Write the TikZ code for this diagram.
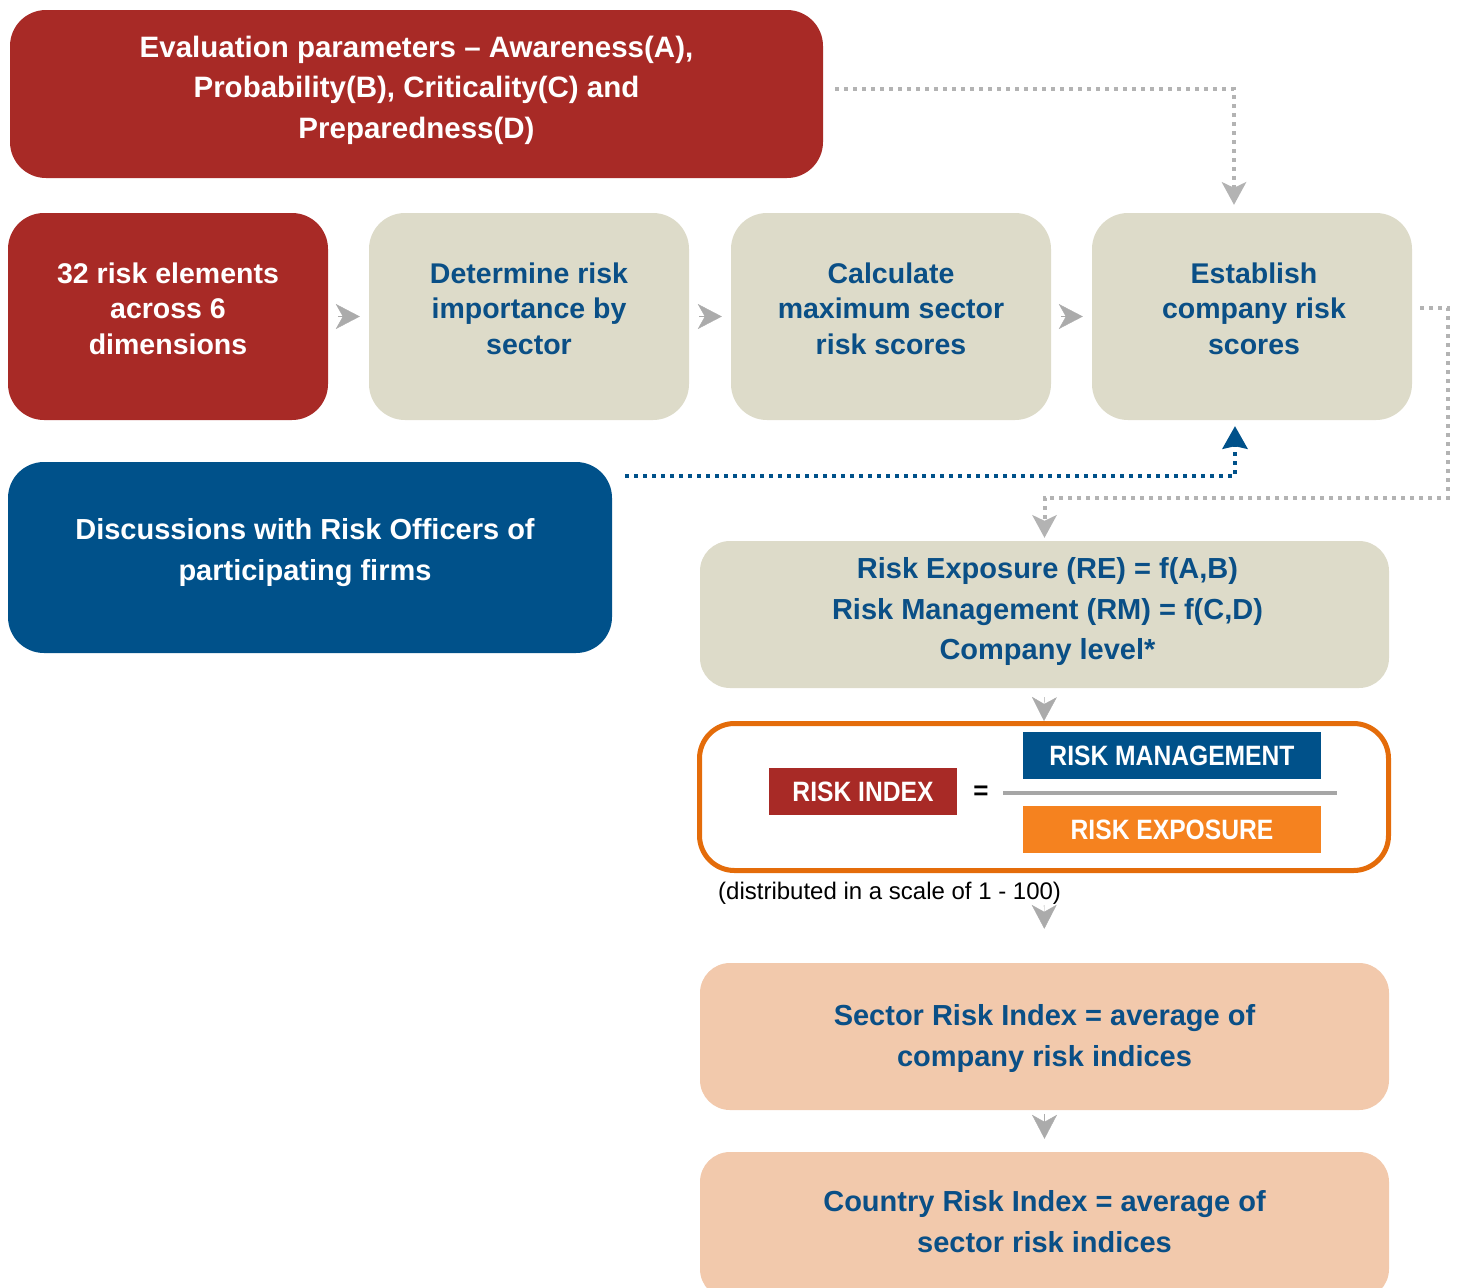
\documentclass[tikz,border=0pt]{standalone}
\usepackage{fontspec}
\setmainfont{Liberation Sans}
\newfontfamily\narrowf{Liberation Sans}[FakeStretch=0.88]
\usetikzlibrary{arrows.meta}
\definecolor{rred}{HTML}{A82A26}
\definecolor{beige}{HTML}{DDDBC9}
\definecolor{dblue}{HTML}{00518A}
\definecolor{tblue}{HTML}{0A4F86}
\definecolor{oborder}{HTML}{E46C0A}
\definecolor{ofill}{HTML}{F5821F}
\definecolor{peach}{HTML}{F2C9AC}
\definecolor{agray}{HTML}{ABABAB}
\definecolor{dgray}{HTML}{B3B3B3}
\definecolor{bargray}{HTML}{A6A6A6}
\tikzset{
 rbox/.style={rounded corners=36pt, inner sep=0pt},
 rowbox/.style={rbox, minimum width=320pt, minimum height=207pt},
 widebox/.style={rbox, rounded corners=30pt, minimum width=689pt, minimum height=147pt},
 txt/.style={inner sep=0pt, align=center, font=\bfseries\fontsize{29.5}{40.5}\selectfont},
 rowtxt/.style={txt, font=\bfseries\fontsize{28.5}{35.5}\selectfont},
 widetxt/.style={txt, text=tblue, font=\bfseries\fontsize{29}{40.8}\selectfont},
 lab/.style={inner sep=0pt, minimum height=47pt, text=white, font=\narrowf\bfseries\fontsize{28}{30}\selectfont},
 tipg/.style={agray, line width=0.4pt, -{Stealth[length=24pt,width=25pt,inset=7pt]}},
 gdot/.style={dgray, line width=4pt, dash pattern=on 4pt off 5pt, -{Stealth[length=23pt,width=25pt,inset=6pt,line width=0pt]}},
 bdot/.style={dblue, line width=4pt, dash pattern=on 4pt off 5pt, -{Stealth[length=23pt,width=26pt,inset=3pt,line width=0pt]}},
}
\begin{document}
\begin{tikzpicture}[x=1pt,y=-1pt]
\useasboundingbox (0,0) rectangle (1457,1288);
% top red box
\node[rbox, fill=rred, minimum width=813pt, minimum height=168pt] (top) at (416.5,94) {};
\node[txt, text=white] (topt) at ([yshift=4pt]top.center)
 {Evaluation parameters -- Awareness(A),\\Probability(B), Criticality(C) and\\Preparedness(D)};
% row
\node[rowbox, fill=rred] (b1) at (168,316.5) {};
\node[rowbox, fill=beige] (b2) at (529,316.5) {};
\node[rowbox, fill=beige] (b3) at (891,316.5) {};
\node[rowbox, fill=beige] (b4) at (1252,316.5) {};
\node[rowtxt, text=white] (b1t) at ([yshift=8pt]b1.center) {32 risk elements\\across 6\\dimensions};
\node[rowtxt, text=tblue] (b2t) at ([yshift=8pt]b2.center) {Determine risk\\importance by\\sector};
\node[rowtxt, text=tblue] (b3t) at ([yshift=8pt]b3.center) {Calculate\\maximum sector\\risk scores};
\node[rowtxt, text=tblue] (b4t) at ([xshift=2pt,yshift=8pt]b4.center) {Establish\\company risk\\scores};
\draw[tipg, shorten <=10pt, shorten >=9pt] (b1) -- (b2);
\draw[tipg, shorten <=10pt, shorten >=9pt] (b2) -- (b3);
\draw[tipg, shorten <=10pt, shorten >=9pt] (b3) -- (b4);
% blue box
\node[rbox, fill=dblue, minimum width=604pt, minimum height=191pt] (blue) at (310,557.5) {};
\node[txt, text=white, font=\bfseries\fontsize{29}{41}\selectfont] (bluet) at ([xshift=-5pt,yshift=4.5pt]blue.center)
 {Discussions with Risk Officers of\\participating firms};
% RE box
\node[widebox, fill=beige] (re) at (1044.5,614.5) {};
\node[widetxt] (ret) at ([xshift=3pt,yshift=3pt]re.center)
 {Risk Exposure (RE) = f(A,B)\\Risk Management (RM) = f(C,D)\\Company level*};
% orange frame
\node[draw=oborder, line width=5pt, rounded corners=35pt, minimum width=689pt, minimum height=147pt, inner sep=0pt] (ri) at (1044,797) {};
\node[lab, fill=rred, minimum width=188pt] (idx) at (863,791.5) {RISK INDEX};
\node[inner sep=0pt, font=\bfseries\fontsize{26}{30}\selectfont] (eq) at (981,793) {=};
\draw[bargray, line width=4pt] (1003,793) -- (1337,793);
\node[lab, fill=dblue, minimum width=298pt] (rm) at (1172,755.5) {RISK MANAGEMENT};
\node[lab, fill=ofill, minimum width=298pt] (rex) at (1172,829.5) {RISK EXPOSURE};
\node[anchor=west, inner sep=0pt, font=\fontsize{24}{28}\selectfont] (dist) at (718,893) {(distributed in a scale of 1 - 100)};
% lower boxes
\node[widebox, fill=peach] (sec) at (1044.5,1036.5) {};
\node[widetxt] (sect) at ([yshift=-2pt]sec.center) {Sector Risk Index = average of\\company risk indices};
\node[widebox, fill=peach] (cty) at (1044.5,1225.5) {};
\node[widetxt] (ctyt) at ([yshift=3.5pt]cty.center) {Country Risk Index = average of\\sector risk indices};
% arrows
\draw[tipg, shorten <=9pt] (re.south) -- (ri.north);
\draw[tipg, shorten <=32pt, shorten >=34pt] (ri.south) -- (sec.north);
\draw[tipg, shorten <=4pt, shorten >=13pt] (sec.south) -- (cty.north);
% dotted connectors
\draw[gdot, shorten <=12pt, shorten >=8pt] ([yshift=5pt]top.east) -| ([xshift=-18pt]b4.north);
\draw[bdot, shorten >=6pt] ([xshift=13pt,yshift=-14pt]blue.north east) -| ([xshift=-17pt]b4.south);
\draw[gdot, shorten <=8pt, shorten >=3pt] ([yshift=8.5pt]b4.east) -- ++(36,0) |- ([yshift=43pt]re.north) -- (re.north);
\end{tikzpicture}
\end{document}
